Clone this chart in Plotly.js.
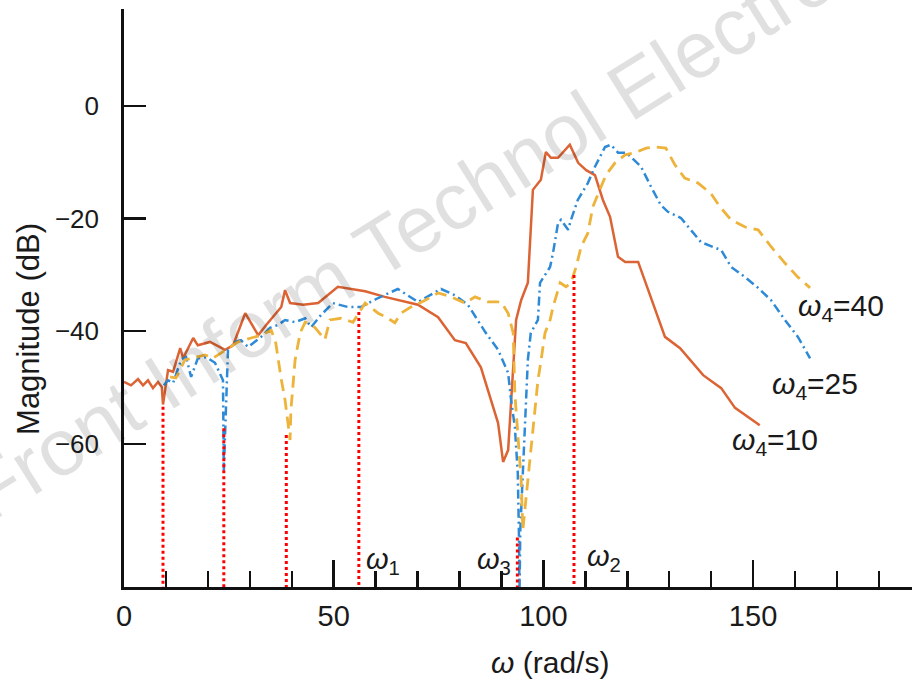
<!DOCTYPE html>
<html>
<head>
<meta charset="utf-8">
<script src="https://cdn.plot.ly/plotly-3.0.1.min.js"></script>
<style>html,body{margin:0;padding:0;background:#fff;}#chart{width:912px;height:680px;}</style>
</head>
<body>
<div id="chart"></div>
<script>
// ---- data ----
const w10_x = [0, 1.67, 3.34, 4.53, 5.72, 6.91, 8.11, 9.0, 9.3, 10.5, 11.7, 13.4, 14.1, 16.5, 17.6, 20.5, 24.1, 26.0, 28.9, 32.0, 33.9, 37.5, 38.4, 39.6, 42.7, 46.3, 51.0, 57.5, 62.2, 70.1, 74.9, 78.9, 81.5, 85.1, 89.2, 90.4, 91.6, 92.3, 93.5, 94.7, 96.3, 97.5, 99.4, 100.6, 101.8, 103.5, 106.3, 108.3, 110.2, 112.3, 114.2, 115.9, 117.8, 119.5, 122.6, 129.0, 132.6, 138.1, 142.4, 145.7, 151.6];
const w10_y = [-49.0, -49.6, -48.5, -49.6, -48.7, -50.1, -49.0, -49.9, -53.0, -46.9, -47.2, -43.0, -44.8, -41.2, -42.5, -41.9, -43.3, -42.5, -36.8, -40.7, -38.9, -35.7, -32.7, -35.0, -35.3, -35.0, -32.1, -32.9, -33.9, -35.3, -37.5, -41.6, -42.1, -46.4, -56.3, -63.2, -61.1, -52.2, -38.0, -34.5, -31.4, -14.9, -13.1, -8.2, -9.2, -9.2, -6.9, -10.1, -11.4, -12.3, -16.7, -19.7, -26.8, -27.7, -27.7, -41.0, -43.0, -47.8, -50.1, -53.6, -56.7];

const w25_x = [9.5, 10.5, 11.7, 13.6, 14.8, 16.0, 17.6, 19.6, 21.7, 22.9, 23.6, 23.8, 24.8, 26.5, 27.9, 29.6, 31.2, 32.7, 34.8, 36.7, 38.4, 40.8, 43.2, 44.6, 47.0, 49.8, 53.4, 56.5, 60.6, 65.3, 70.1, 75.6, 78.9, 82.0, 86.1, 89.2, 91.6, 92.3, 93.2, 93.9, 94.2, 94.3, 94.5, 96.3, 97.0, 98.7, 99.2, 101.6, 102.3, 103.5, 104.2, 105.9, 106.6, 108.2, 110.6, 112.3, 114.7, 116.1, 117.8, 119.7, 120.9, 123.3, 125.7, 128.0, 129.7, 132.8, 137.6, 142.4, 144.8, 148.1, 151.2, 154.3, 157.6, 160.7, 163.6];
const w25_y = [-49.6, -48.7, -49.2, -45.1, -44.6, -48.1, -44.8, -44.6, -45.6, -47.4, -48.7, -64.7, -43.3, -41.9, -41.6, -42.8, -41.9, -41.0, -39.4, -38.9, -38.0, -38.4, -37.7, -39.3, -37.1, -35.0, -35.7, -35.7, -34.1, -32.5, -34.8, -32.5, -33.6, -35.3, -40.1, -43.3, -47.4, -52.2, -57.0, -65.2, -77.1, -87.0, -75.3, -45.1, -40.3, -38.0, -31.4, -28.6, -26.1, -20.8, -20.2, -22.0, -20.2, -16.7, -13.7, -10.8, -7.3, -6.9, -8.3, -8.3, -9.1, -10.8, -14.4, -17.6, -18.8, -19.9, -24.2, -25.6, -28.6, -30.4, -32.3, -34.5, -38.0, -41.0, -44.8];

const w40_x = [11.0, 12.4, 14.5, 16.9, 19.3, 21.2, 23.1, 24.8, 27.2, 30.3, 32.7, 35.1, 36.2, 37.4, 38.4, 39.1, 39.6, 39.8, 40.8, 42.0, 43.2, 45.5, 47.9, 49.1, 51.7, 54.6, 57.5, 60.6, 62.5, 64.6, 66.0, 68.4, 71.8, 74.9, 78.0, 81.3, 83.7, 86.8, 89.9, 91.6, 92.8, 93.2, 93.9, 94.7, 95.1, 96.3, 97.5, 98.7, 99.2, 100.4, 101.6, 102.3, 104.0, 105.4, 106.6, 107.8, 109.0, 110.6, 111.8, 113.0, 114.9, 117.1, 119.5, 121.8, 124.5, 126.6, 129.2, 131.4, 133.7, 136.9, 140.0, 142.1, 144.7, 148.1, 151.2, 154.3, 157.6, 160.7, 163.6];
const w40_y = [-48.1, -48.3, -45.1, -44.6, -44.2, -44.8, -43.9, -43.0, -41.9, -41.2, -40.7, -39.8, -42.1, -48.1, -52.2, -56.3, -59.3, -54.0, -45.1, -40.3, -38.4, -39.3, -41.5, -38.0, -37.7, -38.4, -35.0, -36.8, -37.5, -38.5, -36.8, -35.7, -34.5, -33.2, -33.9, -35.0, -33.9, -34.8, -34.8, -36.8, -40.3, -51.0, -58.1, -66.4, -75.3, -66.4, -57.5, -48.7, -46.4, -40.3, -38.0, -35.7, -31.4, -32.1, -31.4, -28.6, -25.0, -22.6, -17.9, -15.8, -12.3, -10.1, -8.7, -8.3, -7.5, -7.3, -7.5, -10.5, -12.8, -13.7, -15.6, -17.9, -20.2, -21.5, -22.0, -25.0, -27.9, -30.4, -32.3];

// red dotted marker lines: frequency and top value
const mark_x = [9.3, 23.8, 38.7, 56.0, 93.8, 107.3];
const mark_top = [-53.4, -57.2, -58.4, -36.6, -76.6, -30.0];

// labels
const seriesNames = ['<i>ω</i><sub>4</sub>=10', '<i>ω</i><sub>4</sub>=25', '<i>ω</i><sub>4</sub>=40'];
const seriesLabelX = [155.2, 164.8, 171.0];
const seriesLabelY = [-59.5, -49.6, -35.7];
const freqNames = ['<i>ω</i><sub>1</sub>', '<i>ω</i><sub>3</sub>', '<i>ω</i><sub>2</sub>'];
const freqLabelX = [61.8, 88.3, 114.4];
const freqLabelY = [-80.8, -80.8, -80.3];

const xTicks = [0, 50, 100, 150];
const yTicks = [0, -20, -40, -60];
const X_RANGE = [0, 187.9];
const Y_RANGE = [-85.4, 17.2];

// ---- build ----
const FONT = 'Liberation Sans, Arial, Helvetica, sans-serif';
const markX = [], markY = [];
mark_x.forEach((v, i) => { markX.push(v, v, null); markY.push(mark_top[i], Y_RANGE[0], null); });

const traces = [
  {x: w10_x, y: w10_y, name: 'ω4=10', mode: 'lines', line: {color: '#DC6434', width: 2.5}},
  {x: w25_x, y: w25_y, name: 'ω4=25', mode: 'lines', line: {color: '#2E8AD6', width: 2.5, dash: '9px,4px,2px,4px'}},
  {x: w40_x, y: w40_y, name: 'ω4=40', mode: 'lines', line: {color: '#EDB33A', width: 2.8, dash: '12px,7px'}},
  {x: markX, y: markY, name: 'markers', mode: 'lines', connectgaps: false, line: {color: '#FF0000', width: 3, dash: 'dot'}}
];

const annotations = [];
seriesNames.forEach((t, i) => annotations.push({x: seriesLabelX[i], y: seriesLabelY[i], xref: 'x', yref: 'y', text: t, showarrow: false, xanchor: 'center', yanchor: 'middle', font: {family: FONT, size: 30, color: '#1a1a1a'}}));
freqNames.forEach((t, i) => annotations.push({x: freqLabelX[i], y: freqLabelY[i], xref: 'x', yref: 'y', text: t, showarrow: false, xanchor: 'center', yanchor: 'middle', font: {family: FONT, size: 29, color: '#1a1a1a'}}));
annotations.push({x: 0.5406, y: -0.131, xref: 'paper', yref: 'paper', text: '<i>ω</i> (rad/s)', showarrow: false, xanchor: 'center', yanchor: 'middle', font: {family: FONT, size: 30, color: '#1a1a1a'}});
annotations.push({x: -0.1206, y: 0.4464, xref: 'paper', yref: 'paper', text: 'Magnitude (dB)', textangle: -90, showarrow: false, xanchor: 'center', yanchor: 'middle', font: {family: FONT, size: 31, color: '#1a1a1a'}});
// watermark
annotations.push({x: 0.4645, y: 0.706, xref: 'paper', yref: 'paper', text: 'Front Inform Technol Electron Eng', textangle: -32, showarrow: false, xanchor: 'center', yanchor: 'middle', font: {family: FONT, size: 80, color: 'rgba(0,0,0,0.12)'}});

const layout = {
  width: 912, height: 680,
  margin: {l: 124, r: 0, t: 9, b: 93, pad: 0},
  paper_bgcolor: '#fff', plot_bgcolor: '#fff',
  showlegend: false,
  font: {family: FONT, color: '#1a1a1a'},
  xaxis: {
    range: X_RANGE, tickvals: xTicks, ticktext: xTicks.map(String),
    ticks: 'inside', ticklen: 27, tickwidth: 2.5, tickcolor: '#111',
    showline: true, linewidth: 2.8, linecolor: '#111', mirror: false,
    showgrid: false, zeroline: false,
    tickfont: {family: FONT, size: 29, color: '#1a1a1a'},
    ticklabelstandoff: 1,
    minor: {dtick: 10, tick0: 0, ticks: 'inside', ticklen: 16, tickwidth: 2.5, tickcolor: '#111', showgrid: false}
  },
  yaxis: {
    range: Y_RANGE, tickvals: yTicks,
    ticks: 'inside', ticklen: 22, tickwidth: 2.5, tickcolor: '#111',
    showline: true, linewidth: 2.8, linecolor: '#111',
    showgrid: false, zeroline: false,
    tickfont: {family: FONT, size: 26, color: '#1a1a1a'},
    ticklabelstandoff: 17
  },
  annotations: annotations
};

Plotly.newPlot('chart', traces, layout, {displayModeBar: false, staticPlot: true});
</script>
</body>
</html>
